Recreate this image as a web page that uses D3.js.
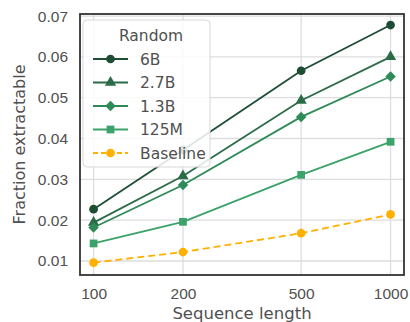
<!DOCTYPE html>
<html>
<head>
<meta charset="utf-8">
<script src="https://cdn.jsdelivr.net/npm/d3@7"></script>
<style>
  body { margin: 0; background: #fff; }
  svg { font-family: "DejaVu Sans", sans-serif; }
</style>
</head>
<body>
<div id="chart"></div>
<script>
// data
const seqLengths = [100, 200, 500, 1000];
const series6B = [0.0227, 0.0372, 0.0566, 0.0678];
const series27B = [0.0194, 0.0308, 0.0493, 0.0600];
const series13B = [0.0182, 0.0286, 0.0453, 0.0552];
const series125M = [0.0143, 0.0196, 0.0311, 0.0392];
const baseline = [0.0096, 0.0122, 0.0168, 0.0214];
const yTicks = [0.01, 0.02, 0.03, 0.04, 0.05, 0.06, 0.07];
const legendTitle = "Random";

const width = 410, height = 322;
const margin = { top: 14, right: 6, bottom: 47, left: 80 };

const series = [
  { name: "6B", values: series6B, color: "#1e4d36", marker: "circle", dash: null },
  { name: "2.7B", values: series27B, color: "#2b6b48", marker: "triangle", dash: null },
  { name: "1.3B", values: series13B, color: "#2e8a56", marker: "diamond", dash: null },
  { name: "125M", values: series125M, color: "#3ba269", marker: "square", dash: null },
  { name: "Baseline", values: baseline, color: "#ffb000", marker: "circle", dash: "7,4" }
];

const svg = d3.select("#chart").append("svg")
  .attr("width", width)
  .attr("height", height);

const x = d3.scaleLog()
  .domain([90, 1110])
  .range([margin.left, width - margin.right]);

const y = d3.scaleLinear()
  .domain([0.00657, 0.0705])
  .range([height - margin.bottom, margin.top]);

// grid
svg.append("g")
  .selectAll("line.gx")
  .data(seqLengths)
  .enter().append("line")
  .attr("x1", d => x(d)).attr("x2", d => x(d))
  .attr("y1", margin.top).attr("y2", height - margin.bottom)
  .attr("stroke", "#dddddd").attr("stroke-width", 1.3);

svg.append("g")
  .selectAll("line.gy")
  .data(yTicks)
  .enter().append("line")
  .attr("x1", margin.left).attr("x2", width - margin.right)
  .attr("y1", d => y(d)).attr("y2", d => y(d))
  .attr("stroke", "#dddddd").attr("stroke-width", 1.3);

// axes
const xAxis = d3.axisBottom(x).tickValues(seqLengths).tickFormat(d3.format("d")).tickSize(0).tickPadding(13);
const yAxis = d3.axisLeft(y).tickValues(yTicks).tickFormat(d3.format(".2f")).tickSize(0).tickPadding(12);

const gx = svg.append("g")
  .attr("transform", "translate(0," + (height - margin.bottom) + ")")
  .call(xAxis);
const gy = svg.append("g")
  .attr("transform", "translate(" + margin.left + ",0)")
  .call(yAxis);

[gx, gy].forEach(g => {
  g.select(".domain").remove();
  g.selectAll("text")
    .style("font-size", "15.5px")
    .attr("fill", "#505050");
});

// frame
svg.append("rect")
  .attr("x", margin.left).attr("y", margin.top)
  .attr("width", width - margin.left - margin.right)
  .attr("height", height - margin.top - margin.bottom)
  .attr("fill", "none")
  .attr("stroke", "#333").attr("stroke-width", 1.8);

// axis labels
svg.append("text")
  .attr("x", 242)
  .attr("y", height - 3)
  .attr("text-anchor", "middle")
  .style("font-size", "16.5px")
  .attr("fill", "#505050")
  .text("Sequence length");

svg.append("text")
  .attr("transform", "translate(25," + ((margin.top + height - margin.bottom) / 2) + ") rotate(-90)")
  .attr("text-anchor", "middle")
  .style("font-size", "16px")
  .attr("fill", "#505050")
  .text("Fraction extractable");

const symbols = {
  circle: d3.symbol().type(d3.symbolCircle).size(60),
  triangle: d3.symbol().type(d3.symbolTriangle).size(55),
  diamond: d3.symbol().type(d3.symbolSquare).size(55),
  square: d3.symbol().type(d3.symbolSquare).size(60)
};
const rot = { circle: 0, triangle: 0, diamond: 45, square: 0 };

const line = d3.line()
  .x((d, i) => x(seqLengths[i]))
  .y(d => y(d));

// draw lines and markers
series.forEach(s => {
  svg.append("path")
    .datum(s.values)
    .attr("d", line)
    .attr("fill", "none")
    .attr("stroke", s.color)
    .attr("stroke-width", 1.8)
    .attr("stroke-dasharray", s.dash);

  svg.append("g")
    .selectAll("path")
    .data(s.values)
    .enter().append("path")
    .attr("d", symbols[s.marker])
    .attr("transform", (d, i) => "translate(" + x(seqLengths[i]) + "," + y(d) + ") rotate(" + rot[s.marker] + ")")
    .attr("fill", s.color);
});

// legend
const legend = svg.append("g").attr("transform", "translate(83,20)");
legend.append("rect")
  .attr("width", 127).attr("height", 147)
  .attr("rx", 4)
  .attr("fill", "#fff").attr("fill-opacity", 0.85)
  .attr("stroke", "#d8d8d8");

legend.append("text")
  .attr("x", 68).attr("y", 21)
  .attr("text-anchor", "middle")
  .style("font-size", "15.5px")
  .attr("fill", "#505050")
  .text(legendTitle);

series.forEach((s, i) => {
  const ly = 39 + i * 23.5;
  legend.append("line")
    .attr("x1", 10).attr("x2", 45)
    .attr("y1", ly).attr("y2", ly)
    .attr("stroke", s.color).attr("stroke-width", 1.8)
    .attr("stroke-dasharray", s.dash ? "5,3" : null);
  legend.append("path")
    .attr("d", symbols[s.marker])
    .attr("transform", "translate(27.5," + ly + ") rotate(" + rot[s.marker] + ")")
    .attr("fill", s.color);
  legend.append("text")
    .attr("x", 57).attr("y", ly + 5.5)
    .style("font-size", "15.5px")
    .attr("fill", "#505050")
    .text(s.name);
});
</script>
</body>
</html>
